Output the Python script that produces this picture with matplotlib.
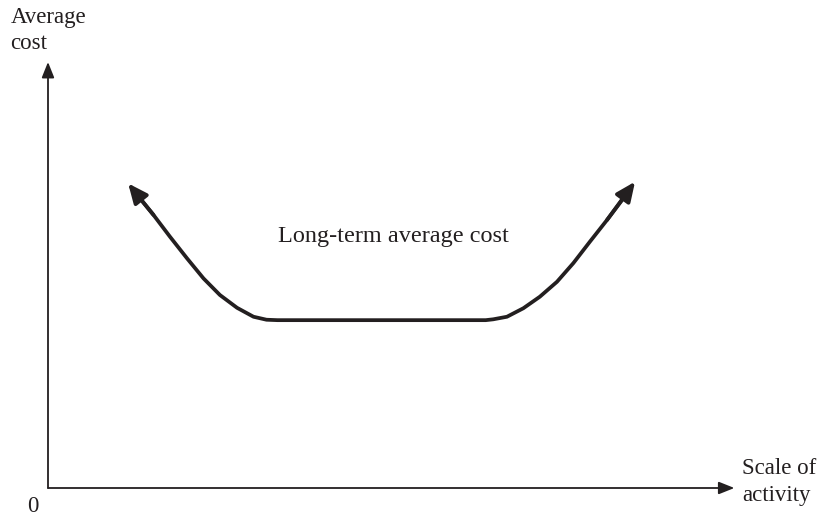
import matplotlib.pyplot as plt

plt.rcParams['font.family'] = ['Liberation Serif', 'DejaVu Serif']

# long-term average cost curve (abstract units)
scale = [1.17, 1.34, 1.54, 1.78, 2.03, 2.27, 2.51, 2.76, 3.00, 3.19, 3.35,
         6.39, 6.50, 6.70, 6.94, 7.18, 7.43, 7.67, 7.91, 8.16, 8.40, 8.57]
cost = [7.15, 6.80, 6.41, 5.90, 5.39, 4.92, 4.53, 4.23, 4.02, 3.95, 3.94,
        3.94, 3.96, 4.02, 4.22, 4.49, 4.84, 5.28, 5.78, 6.29, 6.80, 7.19]

ink = '#231f20'

fig = plt.figure(figsize=(8.18, 5.22), dpi=100)
ax = fig.add_axes([0, 0, 1, 1])
ax.set_xlim(-48 / 68.5, (818 - 48) / 68.5)
ax.set_ylim(-34 / 42.6, 488 / 42.6)
ax.axis('off')

# axes with arrow heads
axis_arrow = dict(arrowstyle='-|>,head_length=0.45,head_width=0.18', color=ink, lw=1.3,
                  mutation_scale=21, shrinkA=0, shrinkB=0)
ax.annotate('', xy=(10.02, 0), xytext=(0, 0), arrowprops=axis_arrow)
ax.annotate('', xy=(0, 10.0), xytext=(0, 0), arrowprops=axis_arrow)

# the curve
ax.plot(scale[1:-1], cost[1:-1], color=ink, lw=2.7, solid_capstyle='butt', solid_joinstyle='round')
head = dict(arrowstyle='-|>,head_length=0.45,head_width=0.2', color=ink, lw=2.7,
            mutation_scale=26, shrinkA=0, shrinkB=0)
ax.annotate('', xy=(scale[0], cost[0]), xytext=(scale[2], cost[2]), arrowprops=head)
ax.annotate('', xy=(scale[-1], cost[-1]), xytext=(scale[-3], cost[-3]), arrowprops=head)

fs = 16.5
ax.text(-0.55, 11.28, 'Average\ncost', fontsize=fs, color=ink, ha='left', va='top', linespacing=1.3)
ax.text(-0.22, -0.56, '0', fontsize=fs, color=ink, ha='center', va='baseline')
ax.text(10.13, 0.70, 'Scale of\nactivity', fontsize=fs, color=ink, ha='left', va='top', linespacing=1.35)
ax.text(3.36, 5.77, 'Long-term average cost', fontsize=17.5, color=ink, ha='left', va='baseline')

fig.savefig('out.png', dpi=100)
